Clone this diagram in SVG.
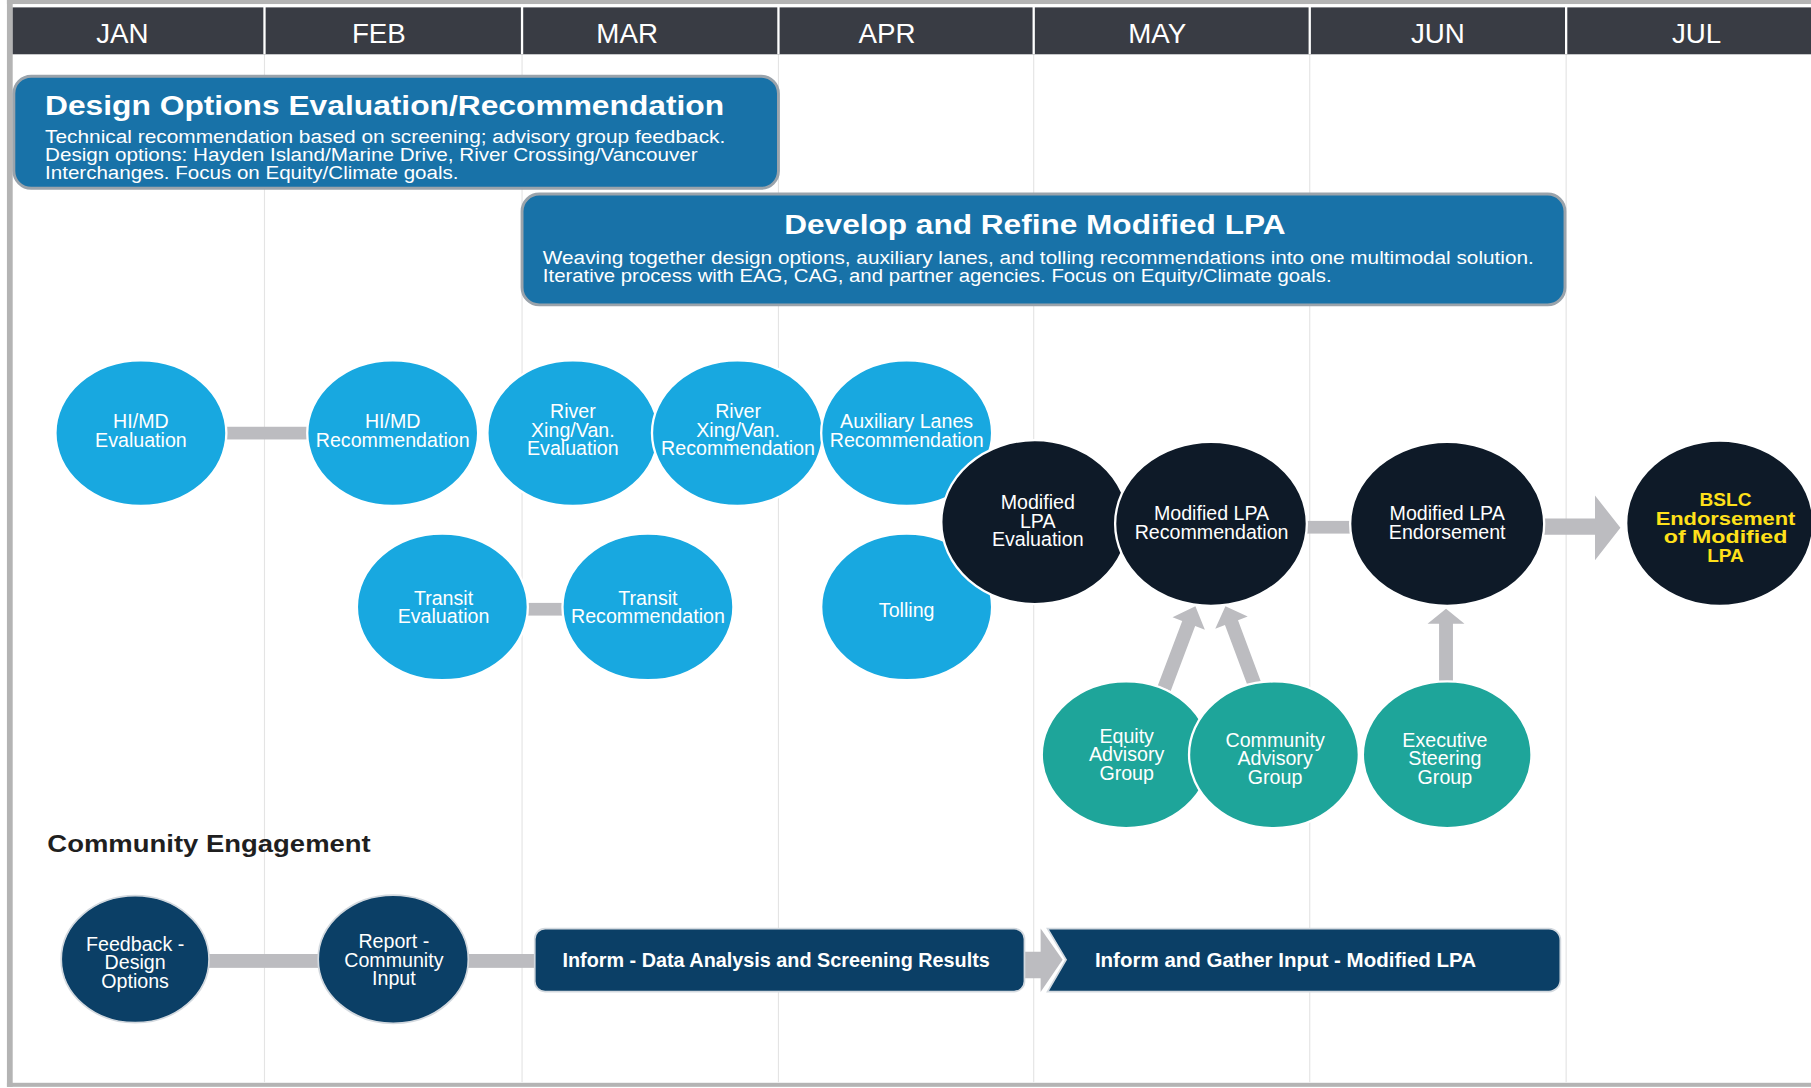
<svg xmlns="http://www.w3.org/2000/svg" width="1811" height="1088" viewBox="0 0 1811 1088">
<style>
.hdr{fill:#393c44}
.sep{stroke:#ffffff;stroke-width:2}
.grid{stroke:#e4e4e4;stroke-width:1}
.frame{fill:#b4b4b4}
.mon{font-family:"Liberation Sans",Arial,sans-serif;font-size:24px;fill:#ffffff;text-anchor:middle}
.box{fill:#1872a8;stroke:#9aa3ab;stroke-width:2.5}
.ttl{font-family:"Liberation Sans",Arial,sans-serif;font-weight:bold;font-size:24px;fill:#ffffff}
.body{font-family:"Liberation Sans",Arial,sans-serif;font-size:16.5px;fill:#ffffff}
.lb{fill:#18a8e0;stroke:#ffffff;stroke-width:2}
.dk{fill:#0e1a28;stroke:#ffffff;stroke-width:2}
.tl{fill:#1ea59a;stroke:#ffffff;stroke-width:2}
.nv{fill:#0b3f66;stroke:#d3d9df;stroke-width:1.5}
.lbl{font-family:"Liberation Sans",Arial,sans-serif;font-size:17px;fill:#ffffff;text-anchor:middle}
.yl{font-family:"Liberation Sans",Arial,sans-serif;font-weight:bold;font-size:16.5px;fill:#ffe01a;text-anchor:middle}
.bar{fill:#bcbcc0}
.sec{font-family:"Liberation Sans",Arial,sans-serif;font-weight:bold;font-size:21px;fill:#1f1f1f}
.rbt{font-family:"Liberation Sans",Arial,sans-serif;font-weight:bold;font-size:17px;fill:#ffffff}
</style>
<rect x="0" y="0" width="1811" height="1088" fill="#ffffff"/>
<g transform="scale(1.15497)">
  <g id="frame">
    <rect class="frame" x="6" y="0" width="1562" height="3.5"/>
    <rect class="frame" x="6" y="0" width="5" height="941"/>
    <rect class="frame" x="6" y="937.5" width="1562" height="3.5"/>
  </g>
  <g id="grid">
    <line class="grid" x1="229" y1="47" x2="229" y2="937"/>
    <line class="grid" x1="452" y1="47" x2="452" y2="937"/>
    <line class="grid" x1="674" y1="47" x2="674" y2="937"/>
    <line class="grid" x1="895" y1="47" x2="895" y2="937"/>
    <line class="grid" x1="1134" y1="47" x2="1134" y2="937"/>
    <line class="grid" x1="1356" y1="47" x2="1356" y2="937"/>
  </g>
  <g id="header">
    <rect class="hdr" x="11" y="6.4" width="1557" height="40.6"/>
    <line class="sep" x1="229" y1="6" x2="229" y2="47"/>
    <line class="sep" x1="452" y1="6" x2="452" y2="47"/>
    <line class="sep" x1="674" y1="6" x2="674" y2="47"/>
    <line class="sep" x1="895" y1="6" x2="895" y2="47"/>
    <line class="sep" x1="1134" y1="6" x2="1134" y2="47"/>
    <line class="sep" x1="1356" y1="6" x2="1356" y2="47"/>
    <text class="mon" x="106" y="37">JAN</text>
    <text class="mon" x="328" y="37">FEB</text>
    <text class="mon" x="543" y="37">MAR</text>
    <text class="mon" x="768" y="37">APR</text>
    <text class="mon" x="1002" y="37">MAY</text>
    <text class="mon" x="1245" y="37">JUN</text>
    <text class="mon" x="1469" y="37">JUL</text>
  </g>
  <g id="box-design-options">
    <rect class="box" x="12" y="66" width="662" height="97" rx="15"/>
    <text class="ttl" x="39" y="100" textLength="588" lengthAdjust="spacingAndGlyphs">Design Options Evaluation/Recommendation</text>
    <text class="body" x="39" y="124" textLength="589" lengthAdjust="spacingAndGlyphs">Technical recommendation based on screening; advisory group feedback.</text>
    <text class="body" x="39" y="139.5" textLength="565" lengthAdjust="spacingAndGlyphs">Design options: Hayden Island/Marine Drive, River Crossing/Vancouver</text>
    <text class="body" x="39" y="155" textLength="358" lengthAdjust="spacingAndGlyphs">Interchanges. Focus on Equity/Climate goals.</text>
  </g>
  <g id="box-develop-refine">
    <rect class="box" x="452" y="168" width="903" height="96" rx="15"/>
    <text class="ttl" x="679" y="202.5" textLength="434" lengthAdjust="spacingAndGlyphs">Develop and Refine Modified LPA</text>
    <text class="body" x="470" y="229" font-size="16" textLength="858" lengthAdjust="spacingAndGlyphs">Weaving together design options, auxiliary lanes, and tolling recommendations into one multimodal solution.</text>
    <text class="body" x="470" y="244.5" font-size="16" textLength="683" lengthAdjust="spacingAndGlyphs">Iterative process with EAG, CAG, and partner agencies. Focus on Equity/Climate goals.</text>
  </g>
  <g id="connectors">
    <rect class="bar" x="195" y="369.5" width="73" height="11"/>
    <rect class="bar" x="456" y="522" width="33" height="11"/>
    <rect class="bar" x="1130" y="451" width="42" height="11"/>
    <polygon class="bar" points="1336,449 1381,449 1381,429 1403,457 1381,485 1381,463 1336,463"/>
    <polygon class="bar" points="1002.4,593.8 1023.6,537.7 1015.2,534.5 1035,525 1043.2,545.3 1034.8,542.1 1013.6,598.2"/>
    <polygon class="bar" points="1080.4,594.1 1060.6,541.15 1052.2,544.3 1061,525 1080.3,533.8 1071.9,536.95 1091.6,589.9"/>
    <polygon class="bar" points="1246,591 1246,540 1236,540 1252,527 1268,540 1258,540 1258,591"/>
    <rect class="bar" x="178" y="826" width="290" height="12"/>
    <polygon class="bar" points="884,824 901,824 901,804 920,831 901,859 901,847 884,847"/>
  </g>
  <g id="node-himd-eval">
    <ellipse class="lb" cx="122" cy="375" rx="74" ry="63"/>
    <text class="lbl" x="122" y="371">HI/MD</text>
    <text class="lbl" x="122" y="387">Evaluation</text>
  </g>
  <g id="node-himd-rec">
    <ellipse class="lb" cx="340" cy="375" rx="74" ry="63"/>
    <text class="lbl" x="340" y="371">HI/MD</text>
    <text class="lbl" x="340" y="387">Recommendation</text>
  </g>
  <g id="node-river-eval">
    <ellipse class="lb" cx="496" cy="375" rx="74" ry="63"/>
    <text class="lbl" x="496" y="362">River</text>
    <text class="lbl" x="496" y="378">Xing/Van.</text>
    <text class="lbl" x="496" y="394">Evaluation</text>
  </g>
  <g id="node-river-rec">
    <ellipse class="lb" cx="638.5" cy="375" rx="74" ry="63"/>
    <text class="lbl" x="639" y="362">River</text>
    <text class="lbl" x="639" y="378">Xing/Van.</text>
    <text class="lbl" x="639" y="394">Recommendation</text>
  </g>
  <g id="node-aux-lanes">
    <ellipse class="lb" cx="785" cy="375" rx="74" ry="63"/>
    <text class="lbl" x="785" y="371">Auxiliary Lanes</text>
    <text class="lbl" x="785" y="387">Recommendation</text>
  </g>
  <g id="node-transit-eval">
    <ellipse class="lb" cx="383" cy="525.5" rx="74" ry="63.5"/>
    <text class="lbl" x="384" y="523.5">Transit</text>
    <text class="lbl" x="384" y="539.5">Evaluation</text>
  </g>
  <g id="node-transit-rec">
    <ellipse class="lb" cx="561" cy="525.5" rx="74" ry="63.5"/>
    <text class="lbl" x="561" y="523.5">Transit</text>
    <text class="lbl" x="561" y="539.5">Recommendation</text>
  </g>
  <g id="node-tolling">
    <ellipse class="lb" cx="785" cy="525.5" rx="74" ry="63.5"/>
    <text class="lbl" x="785" y="534">Tolling</text>
  </g>
  <g id="node-mlpa-eval">
    <ellipse class="dk" cx="896" cy="452" rx="81" ry="71"/>
    <text class="lbl" x="898.5" y="441">Modified</text>
    <text class="lbl" x="898.5" y="457">LPA</text>
    <text class="lbl" x="898.5" y="473">Evaluation</text>
  </g>
  <g id="node-mlpa-rec">
    <ellipse class="dk" cx="1048.5" cy="453.5" rx="83" ry="71"/>
    <text class="lbl" x="1049" y="450.5">Modified LPA</text>
    <text class="lbl" x="1049" y="466.5">Recommendation</text>
  </g>
  <g id="node-mlpa-endorse">
    <ellipse class="dk" cx="1253" cy="453.5" rx="84" ry="71"/>
    <text class="lbl" x="1253" y="450.5">Modified LPA</text>
    <text class="lbl" x="1253" y="466.5">Endorsement</text>
  </g>
  <g id="node-bslc">
    <ellipse class="dk" cx="1489" cy="453" rx="81" ry="71.5"/>
    <text class="yl" x="1494" y="438.5">BSLC</text>
    <text class="yl" x="1494" y="454.5" textLength="121" lengthAdjust="spacingAndGlyphs">Endorsement</text>
    <text class="yl" x="1494" y="470.5" textLength="107" lengthAdjust="spacingAndGlyphs">of Modified</text>
    <text class="yl" x="1494" y="486.5">LPA</text>
  </g>
  <g id="node-equity">
    <ellipse class="tl" cx="975" cy="653.5" rx="73" ry="63.5"/>
    <text class="lbl" x="975.5" y="643">Equity</text>
    <text class="lbl" x="975.5" y="659">Advisory</text>
    <text class="lbl" x="975.5" y="675">Group</text>
  </g>
  <g id="node-community">
    <ellipse class="tl" cx="1103" cy="653.5" rx="73.5" ry="63.5"/>
    <text class="lbl" x="1104" y="646.5">Community</text>
    <text class="lbl" x="1104" y="662.5">Advisory</text>
    <text class="lbl" x="1104" y="678.5">Group</text>
  </g>
  <g id="node-executive">
    <ellipse class="tl" cx="1253" cy="653.5" rx="73" ry="63.5"/>
    <text class="lbl" x="1251" y="646.5">Executive</text>
    <text class="lbl" x="1251" y="662.5">Steering</text>
    <text class="lbl" x="1251" y="678.5">Group</text>
  </g>
  <g id="section-title">
    <text class="sec" x="41" y="738" textLength="280" lengthAdjust="spacingAndGlyphs">Community Engagement</text>
  </g>
  <g id="node-feedback">
    <ellipse class="nv" cx="117" cy="830.5" rx="64" ry="55"/>
    <text class="lbl" x="117" y="823">Feedback -</text>
    <text class="lbl" x="117" y="839">Design</text>
    <text class="lbl" x="117" y="855.5">Options</text>
  </g>
  <g id="node-report">
    <ellipse class="nv" cx="340.5" cy="830.5" rx="65" ry="55.5"/>
    <text class="lbl" x="341" y="821">Report -</text>
    <text class="lbl" x="341" y="837">Community</text>
    <text class="lbl" x="341" y="853">Input</text>
  </g>
  <g id="node-inform-data">
    <rect class="nv" x="463" y="804" width="424" height="54.5" rx="9"/>
    <text class="rbt" x="487" y="837" textLength="370" lengthAdjust="spacingAndGlyphs">Inform - Data Analysis and Screening Results</text>
  </g>
  <g id="node-inform-gather">
    <path class="nv" d="M907,804 H1341 A10,10 0 0 1 1351,814 V848.5 A10,10 0 0 1 1341,858.5 H907 L923,831 Z"/>
    <text class="rbt" x="948" y="837" textLength="330" lengthAdjust="spacingAndGlyphs">Inform and Gather Input - Modified LPA</text>
  </g>
</g>
</svg>
